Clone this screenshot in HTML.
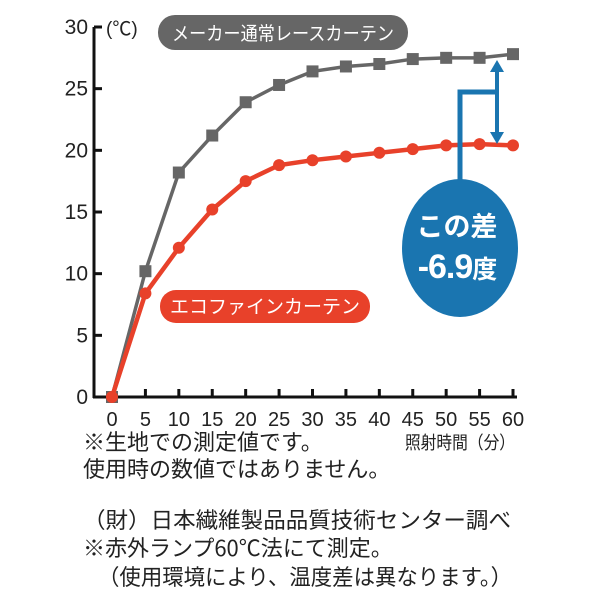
<!DOCTYPE html>
<html><head><meta charset="utf-8"><style>
body{margin:0;background:#fff;}
svg{display:block;font-family:"Liberation Sans","Noto Sans CJK JP",sans-serif;}
</style></head><body>
<svg id="c" width="600" height="600"></svg>
<script>
const minutes=[0,5,10,15,20,25,30,35,40,45,50,55,60];
const standardCurtain=[0,10.2,18.2,21.2,23.9,25.3,26.4,26.8,27.0,27.4,27.5,27.5,27.8];
const ecoCurtain=[0,8.4,12.1,15.2,17.5,18.8,19.2,19.5,19.8,20.1,20.4,20.5,20.4];
const yTicks=[0,5,10,15,20,25,30];
const xTicks=[0,5,10,15,20,25,30,35,40,45,50,55,60];
const NS="http://www.w3.org/2000/svg";
const svg=document.getElementById('c');
const X=v=>112+v*(401/60);
const Y=v=>397-v*(370/30);
function mk(t,a,p){const e=document.createElementNS(NS,t);for(const k in a)e.setAttribute(k,a[k]);(p||svg).appendChild(e);return e;}
let ya=mk('line',{x1:94,y1:27,x2:94,y2:398,stroke:'#111','stroke-width':3});


let xa=mk('line',{x1:93,y1:397,x2:517,y2:397,stroke:'#111','stroke-width':3});


yTicks.forEach(v=>{
  let t=mk('line',{x1:94,y1:Y(v),x2:102,y2:Y(v),stroke:'#111','stroke-width':3});
  
  
  let l=mk('text',{x:88,y:Y(v)+7,'text-anchor':'end','font-size':21,fill:'#222'});
  l.textContent=v;
  
  
});
xTicks.forEach(v=>{
  if(v>0){let t=mk('line',{x1:X(v),y1:389,x2:X(v),y2:397,stroke:'#111','stroke-width':3});
  
  }
  let l=mk('text',{x:X(v),y:426,'text-anchor':'middle','font-size':20,fill:'#222'});
  l.textContent=v;
  
  
});
let unit=mk('text',{x:106,y:35,'font-size':19,fill:'#222'});
unit.textContent='(℃)';


function series(vals,color,name,square){
  let pts=vals.map((v,i)=>X(minutes[i])+','+Y(v)).join(' ');
  let pl=mk('polyline',{points:pts,fill:'none',stroke:color,'stroke-width':square?3.5:4.5});
  
  
  vals.forEach((v,i)=>{
    let m=square?mk('rect',{x:X(minutes[i])-6,y:Y(v)-6,width:12,height:12,fill:color}):mk('circle',{cx:X(minutes[i]),cy:Y(v),r:6,fill:color});
    
    
  });
}
series(standardCurtain,'#666','standard-curtain',true);
series(ecoCurtain,'#e8412a','eco-curtain',false);
</script>
<svg width="600" height="600" style="position:absolute;left:0;top:0">
<g>
<rect x="158" y="15" width="250" height="35" rx="17" fill="#666"/>
<text x="283" y="40" text-anchor="middle" font-size="19" fill="#fff" font-family="Noto Sans CJK JP,sans-serif" textLength="222" lengthAdjust="spacingAndGlyphs">メーカー通常レースカーテン</text>
</g>
<g>
<rect x="160" y="290" width="210" height="33" rx="16" fill="#e8412a"/>
<text x="265" y="313" text-anchor="middle" font-size="19" fill="#fff" font-family="Noto Sans CJK JP,sans-serif">エコファインカーテン</text>
</g>
<g>
<polyline points="460,190 460,92 497,92" fill="none" stroke="#1a75b0" stroke-width="5"/>
<line x1="497" y1="68" x2="497" y2="136" stroke="#1a75b0" stroke-width="4"/>
<polygon points="490,72 504,72 497,60" fill="#1a75b0"/>
<polygon points="490,132 504,132 497,144" fill="#1a75b0"/>
<ellipse cx="460" cy="248" rx="58" ry="69" fill="#1a75b0"/>
<text x="457" y="236" text-anchor="middle" font-size="27" font-weight="bold" fill="#fff" font-family="Noto Sans CJK JP,sans-serif">この差</text>
<text x="457" y="278" text-anchor="middle" font-size="34" font-weight="bold" fill="#fff" font-family="Liberation Sans,Noto Sans CJK JP,sans-serif" letter-spacing="-1">-6.9<tspan font-size="25">度</tspan></text>
</g>
<g font-size="22" fill="#222" font-family="Noto Sans CJK JP,sans-serif">
<text x="83" y="450">※生地での測定値です。</text>
<text x="405" y="449" font-size="18" textLength="110" lengthAdjust="spacingAndGlyphs">照射時間（分）</text>
<text x="83" y="477">使用時の数値ではありません。</text>
<text x="83" y="528" textLength="428" lengthAdjust="spacingAndGlyphs">（財）日本繊維製品品質技術センター調べ</text>
<text x="83" y="556">※赤外ランプ60℃法にて測定。</text>
<text x="98" y="585" textLength="414" lengthAdjust="spacingAndGlyphs">（使用環境により、温度差は異なります。）</text>
</g>
</svg>
</body></html>
